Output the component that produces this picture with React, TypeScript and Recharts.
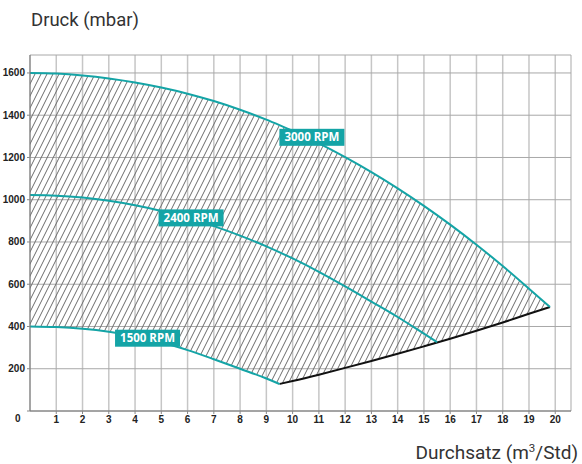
import { ComposedChart, Area, Line, XAxis, YAxis, CartesianGrid } from "recharts"

// flow in m³/Std, pressure in mbar
const flow3000 = [0, 1, 2, 3, 4, 5, 6, 7, 8, 9, 9.5, 10, 11, 12, 13, 14, 15, 16, 17, 18, 19, 19.8]
const rpm3000 = [1600, 1597, 1588, 1574, 1555, 1531, 1502, 1467, 1426, 1379, 1353, 1326, 1267, 1202, 1131, 1054, 971, 882, 787, 686, 579, 492]

const flow2400 = [0, 1, 2, 3, 4, 5, 6, 7, 8, 9, 10, 11, 12, 13, 14, 15, 15.5]
const rpm2400 = [1022, 1019, 1010, 995, 974, 947, 914, 875, 830, 779, 722, 659, 590, 518, 445, 366, 326]

const flow1500 = [0, 1, 2, 3, 4, 5, 6, 7, 8, 9, 9.5]
const rpm1500 = [400, 397, 389, 375, 354, 325, 288, 245, 200, 154, 128]

// lower operating limit (black line)
const flowMin = [9.5, 10, 11, 12, 13, 14, 15, 16, 17, 18, 19, 19.8]
const minLine = [128, 142, 172, 204, 237, 271, 306, 342, 380, 419, 460, 492]

const xTicks = [1, 2, 3, 4, 5, 6, 7, 8, 9, 10, 11, 12, 13, 14, 15, 16, 17, 18, 19, 20]
const xMinorTicks = [0.5, 1.5, 2.5, 3.5, 4.5, 5.5, 6.5, 7.5, 8.5, 9.5, 10.5, 11.5, 12.5, 13.5, 14.5, 15.5, 16.5, 17.5, 18.5, 19.5, 20.5]
const yTicks = [0, 200, 400, 600, 800, 1000, 1200, 1400, 1600]
const yMinorTicks = [100, 300, 500, 700, 900, 1100, 1300, 1500]

const TEAL = "#14a4a6"
const tickFont = "'Liberation Sans', Arial, sans-serif"

const toPoints = (xs: number[], ys: number[]) => xs.map((x, i) => ({ flow: x, p: ys[i] }))
const topAt = (x: number) => rpm3000[flow3000.indexOf(x)]
const hatchLeft = flow1500.map((x, i) => ({ flow: x, range: [rpm1500[i], topAt(x)] }))
const hatchRight = flowMin.map((x, i) => ({ flow: x, range: [minLine[i], topAt(x)] }))

function RpmTag({ cx, cy, text }: { cx: number; cy: number; text: string }) {
  return (
    <g>
      <rect x={cx - 32.5} y={cy - 8.5} width={65} height={17} fill={TEAL} />
      <text x={cx} y={cy + 4} textAnchor="middle" fill="#fff" fontSize={11.5} fontWeight="bold" fontFamily="'Open Sans', sans-serif">
        {text}
      </text>
    </g>
  )
}

const tagAt = (text: string, at: number, dx: number, dy: number) => (props: any) =>
  props.index === at ? <RpmTag key={text} cx={props.x + dx} cy={props.y + dy} text={text} /> : <g key={props.index} />

const YTick = (props: any) => {
  const { x, y, payload } = props
  const zero = payload.value === 0
  return (
    <text x={zero ? x - 4.5 : x} y={zero ? y + 7 : y} dy={3.5} textAnchor="end" fontSize={10} fontWeight="bold" fill="#222" fontFamily={tickFont}>
      {payload.value}
    </text>
  )
}

export default function App() {
  return (
    <div style={{ position: "absolute", left: 0, top: 0, width: 582, height: 464, background: "#fff" }}>
      <ComposedChart width={582} height={464} margin={{ top: 55, right: 11, left: 0, bottom: 28 }}>
        <defs>
          <pattern id="hatch" patternUnits="userSpaceOnUse" width={6} height={12}>
            <path d="M0,12 L6,0 M-3,6 L3,-6 M3,18 L9,6" stroke="#6a6a6a" strokeWidth={1} />
          </pattern>
        </defs>
        <CartesianGrid horizontal={false} stroke="#c6c6c6" strokeWidth={1.5} />
        <CartesianGrid vertical={false} stroke="#a8a8a8" />
        <XAxis xAxisId="minor" type="number" dataKey="flow" domain={[0, 20.6]} ticks={xMinorTicks} interval={0} height={0} axisLine={false} tickSize={3} tickLine={{ stroke: "#888" }} tick={() => <g />} />
        <XAxis type="number" dataKey="flow" domain={[0, 20.6]} ticks={xTicks} interval={0} height={25} tickSize={3} tickMargin={2} axisLine={{ stroke: "#777" }} tickLine={{ stroke: "#888" }} tick={{ fontSize: 10, fontWeight: "bold", fill: "#222", fontFamily: tickFont }} />
        <XAxis xAxisId="top" orientation="top" type="number" domain={[0, 20.6]} height={0} tick={false} tickLine={false} axisLine={{ stroke: "#bbb" }} />
        <YAxis yAxisId="minor" type="number" domain={[0, 1685]} ticks={yMinorTicks} interval={0} width={0} axisLine={false} tickSize={3} tickLine={{ stroke: "#888" }} tick={() => <g />} />
        <YAxis type="number" domain={[0, 1685]} ticks={yTicks} interval={0} width={30} tickSize={3} tickMargin={2} axisLine={{ stroke: "#777" }} tickLine={{ stroke: "#888" }} tick={YTick} />
        <YAxis yAxisId="right" orientation="right" type="number" domain={[0, 1685]} width={0} tick={false} tickLine={false} axisLine={{ stroke: "#bbb" }} />

        <Area data={hatchLeft} dataKey="range" type="monotone" stroke="none" fill="url(#hatch)" fillOpacity={1} isAnimationActive={false} />
        <Area data={hatchRight} dataKey="range" type="monotone" stroke="none" fill="url(#hatch)" fillOpacity={1} isAnimationActive={false} />

        <Line data={toPoints(flowMin, minLine)} dataKey="p" type="monotone" stroke="#111" strokeWidth={2} dot={false} isAnimationActive={false} />
        <Line data={toPoints(flow1500, rpm1500)} dataKey="p" type="monotone" stroke={TEAL} strokeWidth={2} dot={false} isAnimationActive={false} label={tagAt("1500 RPM", 4, 12.5, 2)} />
        <Line data={toPoints(flow2400, rpm2400)} dataKey="p" type="monotone" stroke={TEAL} strokeWidth={2} dot={false} isAnimationActive={false} label={tagAt("2400 RPM", 6, 3.5, 0)} />
        <Line data={toPoints(flow3000, rpm3000)} dataKey="p" type="monotone" stroke={TEAL} strokeWidth={2} dot={false} isAnimationActive={false} label={tagAt("3000 RPM", 12, -7, -6)} />
      </ComposedChart>
      <svg width={582} height={464} style={{ position: "absolute", left: 0, top: 0, pointerEvents: "none" }}>
        <text x={31} y={26} fontSize={18.5} fill="#333" fontFamily="Roboto, sans-serif">Druck (mbar)</text>
        <text x={578} y={459} textAnchor="end" fontSize={19} fill="#333" fontFamily="Roboto, sans-serif">
          Durchsatz (m<tspan dy={-7} fontSize={11.5}>3</tspan><tspan dy={7}>/Std)</tspan>
        </text>
      </svg>
    </div>
  )
}
